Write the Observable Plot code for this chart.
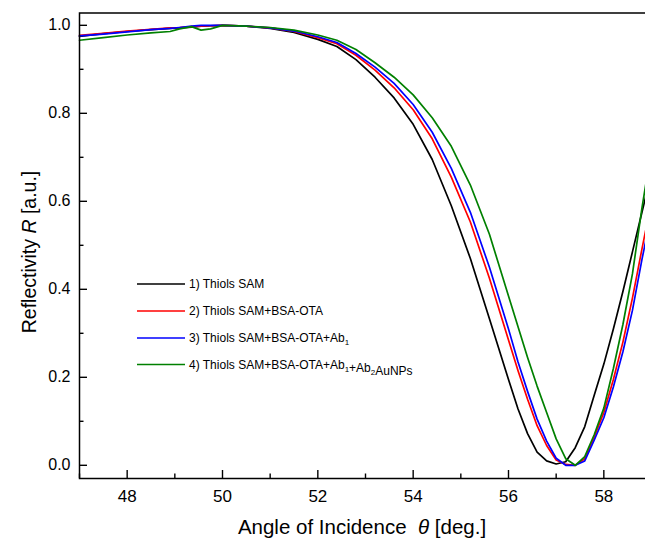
<!DOCTYPE html>
<html><head><meta charset="utf-8">
<script src="https://cdn.jsdelivr.net/npm/d3@7"></script>
<script src="https://cdn.jsdelivr.net/npm/@observablehq/plot@0.6"></script>
<style>html,body{margin:0;padding:0;overflow:hidden;background:#fff;width:645px;height:540px}#chart svg{max-width:none !important}</style>
</head><body><div id="chart"></div><script>
// Angle of incidence (deg)
const theta = [47, 47.5, 48, 48.5, 48.9, 49.1, 49.35, 49.55, 49.75, 50, 50.5, 51, 51.5, 52, 52.4, 52.8, 53.2, 53.6, 54.0, 54.4, 54.8, 55.2, 55.6, 56.0, 56.2, 56.4, 56.6, 56.8, 57.0, 57.2, 57.4, 57.6, 57.8, 58.0, 58.2, 58.4, 58.6, 58.8, 59.0];
// 1) Thiols SAM
const thiolsSAM = [0.975, 0.981, 0.986, 0.990, 0.993, 0.994, 0.996, 0.998, 0.999, 1.000, 0.998, 0.993, 0.984, 0.968, 0.952, 0.922, 0.882, 0.835, 0.775, 0.695, 0.590, 0.470, 0.333, 0.195, 0.128, 0.072, 0.030, 0.010, 0.003, 0.008, 0.040, 0.088, 0.160, 0.230, 0.310, 0.395, 0.485, 0.575, 0.665];
// 2) Thiols SAM+BSA-OTA
const bsaOTA = [0.977, 0.982, 0.987, 0.991, 0.994, 0.995, 0.997, 0.998, 0.999, 1.000, 0.998, 0.994, 0.986, 0.972, 0.958, 0.932, 0.898, 0.858, 0.808, 0.742, 0.655, 0.553, 0.425, 0.285, 0.215, 0.150, 0.090, 0.045, 0.012, 0.002, 0.000, 0.015, 0.065, 0.120, 0.195, 0.280, 0.380, 0.492, 0.600];
// 3) Thiols SAM+BSA-OTA+Ab1
const ab1 = [0.976, 0.980, 0.985, 0.990, 0.993, 0.995, 0.998, 1.000, 1.000, 1.000, 0.998, 0.994, 0.987, 0.974, 0.961, 0.936, 0.905, 0.868, 0.820, 0.757, 0.675, 0.575, 0.450, 0.310, 0.235, 0.168, 0.105, 0.055, 0.016, 0.000, 0.000, 0.010, 0.058, 0.108, 0.178, 0.258, 0.352, 0.468, 0.575];
// 4) Thiols SAM+BSA-OTA+Ab1+Ab2AuNPs
const ab2AuNPs = [0.966, 0.972, 0.978, 0.983, 0.986, 0.992, 0.997, 0.989, 0.992, 1.000, 0.998, 0.995, 0.989, 0.978, 0.966, 0.945, 0.915, 0.882, 0.842, 0.790, 0.725, 0.637, 0.525, 0.385, 0.315, 0.245, 0.180, 0.120, 0.060, 0.015, 0.000, 0.020, 0.070, 0.130, 0.220, 0.320, 0.435, 0.585, 0.720];

const seriesNames = ["1) Thiols SAM", "2) Thiols SAM+BSA-OTA", "3) Thiols SAM+BSA-OTA+Ab_{1}", "4) Thiols SAM+BSA-OTA+Ab_{1}+Ab_{2}AuNPs"];
const seriesColors = ["#000000", "#ff0000", "#0000ff", "#008000"];
const xMajor = [48, 50, 52, 54, 56, 58];
const xMinor = [47, 49, 51, 53, 55, 57, 59];
const yMajor = [0, 0.2, 0.4, 0.6, 0.8, 1.0];
const yMinor = [0.1, 0.3, 0.5, 0.7, 0.9];
const xTitle = ["Angle of Incidence  ", "θ", " [deg.]"];
const yTitle = ["Reflectivity ", "R", " [a.u.]"];

const W = 651, H = 540, mL = 79, mT = 12.5, mB = 62, mR = 0;
const fh = H - mT - mB, fw = W - mL - mR;
const FONT = "'Liberation Sans', Arial, Helvetica, sans-serif";

const data = [];
[thiolsSAM, bsaOTA, ab1, ab2AuNPs].forEach((arr, i) =>
  arr.forEach((r, j) => data.push({theta: theta[j], R: r, s: seriesNames[i]})));

const chart = Plot.plot({
  width: W, height: H,
  marginLeft: mL, marginRight: mR, marginTop: mT, marginBottom: mB,
  style: {fontFamily: FONT, fontSize: "16px", background: "#fff", color: "#000", maxWidth: "none"},
  x: {domain: [47, 59]},
  y: {domain: [-0.03, 1.028]},
  color: {domain: seriesNames, range: seriesColors},
  marks: [
    Plot.line(data, {x: "theta", y: "R", z: "s", stroke: "s", strokeWidth: 1.7, curve: "linear"}),
    Plot.tickY(yMajor, {y: d => d, insetRight: fw - 8, stroke: "#000", strokeWidth: 1.4}),
    Plot.tickY(yMinor, {y: d => d, insetRight: fw - 4.5, stroke: "#000", strokeWidth: 1.4}),
    Plot.tickX(xMajor, {x: d => d, insetTop: fh - 8, stroke: "#000", strokeWidth: 1.4}),
    Plot.tickX(xMinor, {x: d => d, insetTop: fh - 4.5, stroke: "#000", strokeWidth: 1.4}),
    Plot.axisY({ticks: yMajor, tickSize: 0, tickPadding: 9, tickFormat: d3.format(".1f"), fontSize: 16, label: null}),
    Plot.axisX({ticks: xMajor, tickSize: 0, tickPadding: 11, tickFormat: d => String(d), fontSize: 17, label: null}),
    Plot.frame({stroke: "#000", strokeWidth: 1.5})
  ]
});
chart.style.maxWidth = "none";
document.getElementById("chart").appendChild(chart);

const svg = d3.select(chart);
// axis titles
function addRich(sel, parts, italicIdx) {
  parts.forEach((p, i) => {
    const t = sel.append("tspan").text(p);
    if (i === italicIdx) t.attr("font-style", "italic");
  });
}
const xt = svg.append("text")
  .attr("x", mL + (645 - mL) / 2).attr("y", 534)
  .attr("text-anchor", "middle").attr("font-size", 20.5).attr("font-family", FONT)
  .style("white-space", "pre").attr("fill", "#000");
addRich(xt, xTitle, 1);
const yt = svg.append("text")
  .attr("transform", `translate(36,252) rotate(-90)`)
  .attr("text-anchor", "middle").attr("font-size", 19.5).attr("font-family", FONT)
  .style("white-space", "pre").attr("fill", "#000");
addRich(yt, yTitle, 1);

// legend
const lg = svg.append("g").attr("font-family", FONT).attr("font-size", 12).attr("text-anchor", "start");
const legY = [284, 311, 338, 364.5];
seriesNames.forEach((name, i) => {
  const y = legY[i];
  lg.append("line").attr("x1", 137).attr("x2", 185).attr("y1", y).attr("y2", y)
    .attr("stroke", seriesColors[i]).attr("stroke-width", 1.7);
  const t = lg.append("text").attr("x", 189).attr("y", y + 4.3).attr("fill", "#000").attr("text-anchor", "start");
  name.split(/(_\{[^}]*\})/).filter(s => s.length).forEach(seg => {
    if (seg.startsWith("_{")) {
      t.append("tspan").attr("font-size", 8).attr("dy", 3).text(seg.slice(2, -1));
      t.append("tspan").attr("dy", -3).text("");
    } else {
      t.append("tspan").text(seg);
    }
  });
});
</script></body></html>
